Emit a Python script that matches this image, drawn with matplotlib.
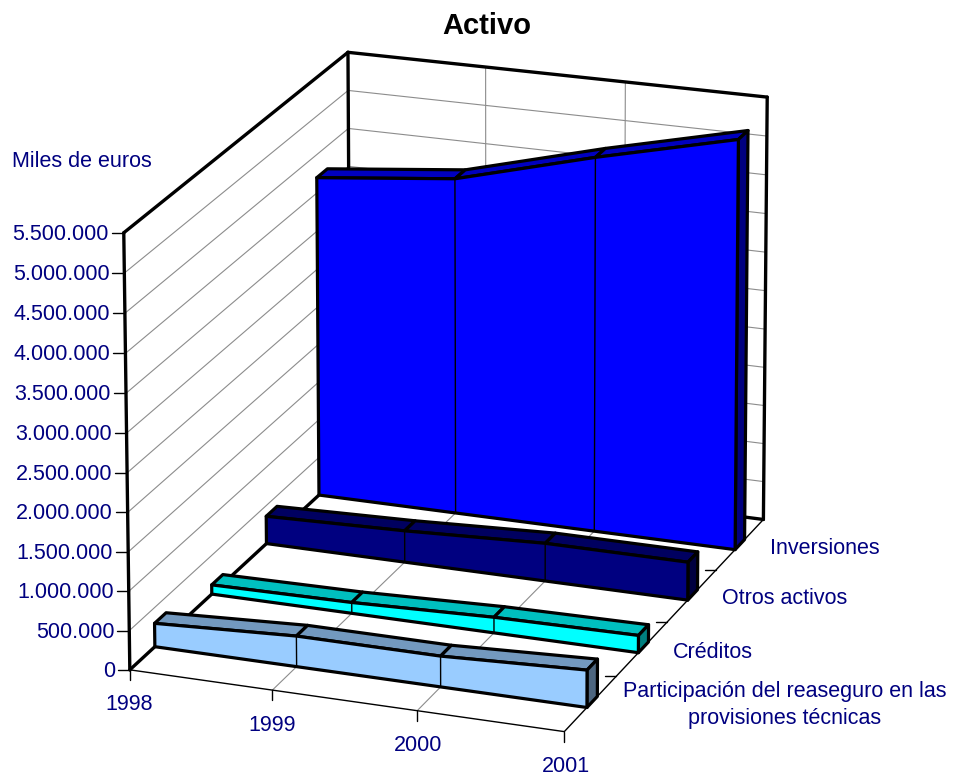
import numpy as np
import matplotlib
matplotlib.use("Agg")
import matplotlib.pyplot as plt

plt.rcParams["font.family"] = ["Liberation Sans", "DejaVu Sans"]

# data (miles de euros)
years = ["1998", "1999", "2000", "2001"]
series = ["Participación del reaseguro en las\nprovisiones técnicas", "Créditos", "Otros activos", "Inversiones"]
participacion = [300000, 390000, 390000, 470000]
creditos = [120000, 140000, 200000, 220000]
otros = [360000, 410000, 490000, 490000]
inversiones = [4200000, 4390000, 4870000, 5300000]
values = [participacion, creditos, otros, inversiones]
yticks = list(range(0, 5500001, 500000))

front_cols = ["#99CCFF", "#00FFFF", "#000080", "#0000FF"]
top_cols = ["#7399BF", "#00BFBF", "#000060", "#0000BF"]
side_cols = ["#4D6680", "#008080", "#000040", "#000080"]
navy = "#000080"
grid = "#8C8C8C"
half_depth = 0.10
depth_shift = [0.03, 0.03, 0.02, 0.0]
vmax = yticks[-1]

# perspective camera, fitted on the eight corners of the chart box
world = np.array([[0, 0, 0], [3, 0, 0], [3, 4, 0], [0, 4, 0],
                  [0, 0, 1], [3, 0, 1], [3, 4, 1], [0, 4, 1]], dtype=float)
screen = np.array([[130, 671], [566, 732], [762, 519], [350, 465],
                   [125, 233], [562, 283], [770, 99], [347, 52]], dtype=float)
rows = []
for (a, b, c), (u, v) in zip(world, screen):
    rows.append([a, b, c, 1, 0, 0, 0, 0, -u * a, -u * b, -u * c, -u])
    rows.append([0, 0, 0, 0, a, b, c, 1, -v * a, -v * b, -v * c, -v])
cam = np.linalg.svd(np.array(rows))[2][-1].reshape(3, 4)


def proj(x, y, val):
    p = cam @ np.array([x, y, val / vmax, 1.0])
    return p[0] / p[2], p[1] / p[2]


fig = plt.figure(figsize=(9.54, 7.78), dpi=100)
ax = fig.add_axes([0, 0, 1, 1])
ax.set_xlim(0, 954)
ax.set_ylim(778, 0)
ax.axis("off")


def line(a, b, lw=0.8, color="black", z=1):
    ax.plot([a[0], b[0]], [a[1], b[1]], color=color, lw=lw, zorder=z, solid_capstyle="round")


def face(pts, col, lw=2.3, z=5):
    ax.fill([p[0] for p in pts], [p[1] for p in pts], facecolor=col, edgecolor="black",
            lw=lw, zorder=z, joinstyle="round")


# walls and floor grid
for t in yticks:
    line(proj(0, 0, t), proj(0, 4, t), color=grid)
    line(proj(0, 4, t), proj(3, 4, t), color=grid)
for i in range(1, 3):
    line(proj(i, 0, 0), proj(i, 4, 0), color=grid)
    line(proj(i, 4, 0), proj(i, 4, vmax), color=grid)

# heavy frame
for a, b in [((0, 0, 0), (0, 0, vmax)), ((0, 0, vmax), (0, 4, vmax)), ((0, 4, vmax), (3, 4, vmax)),
             ((0, 4, vmax), (0, 4, 0)), ((3, 4, vmax), (3, 4, 0)), ((0, 0, 0), (0, 4, 0)), ((0, 4, 0), (3, 4, 0))]:
    line(proj(*a), proj(*b), lw=2.4, z=2)
line(proj(0, 0, 0), proj(3, 0, 0), lw=1.0, z=2)
line(proj(3, 0, 0), proj(3, 4, 0), lw=1.0, z=2)

# ticks
for t in yticks:
    x, y = proj(0, 0, t)
    line((x - 12, y), (x, y), lw=1.0)
    ax.text(x - 15, y + 1.5, f"{t:,}".replace(",", "."), color=navy, fontsize=15.5, ha="right", va="center")
for i, lab in enumerate(years):
    x, y = proj(i, 0, 0)
    line((x, y), (x, y + 10), lw=1.0)
    ax.text(x - 1 + i * 0.8, y + 35, lab, color=navy, fontsize=15.5, ha="center", va="center")
for k in range(1, 4):
    x, y = proj(3, k, 0)
    line((x - 11, y), (x, y), lw=1.0)

label_pos = [(785, 705), (713, 652), (785, 599), (825, 548)]
for lab, (x, y) in zip(series, label_pos):
    ax.text(x, y, lab, color=navy, fontsize=15.5, ha="center", va="center", linespacing=1.4)

# ribbons, back to front
for k in range(3, -1, -1):
    vals = values[k]
    yf = k + 0.5 - half_depth + depth_shift[k]
    yb = k + 0.5 + half_depth + depth_shift[k]
    z = 10 + (3 - k) * 5
    for i in range(3):
        face([proj(i, yf, vals[i]), proj(i + 1, yf, vals[i + 1]),
              proj(i + 1, yb, vals[i + 1]), proj(i, yb, vals[i])], top_cols[k], z=z)
    face([proj(3, yf, 0), proj(3, yb, 0), proj(3, yb, vals[3]), proj(3, yf, vals[3])], side_cols[k], z=z)
    pts = [proj(i, yf, vals[i]) for i in range(4)] + [proj(3, yf, 0), proj(0, yf, 0)]
    face(pts, front_cols[k], z=z + 1)
    for i in range(1, 3):
        line(proj(i, yf, 0), proj(i, yf, vals[i]), lw=1.0, z=z + 2)

ax.text(487, 26, "Activo", color="black", fontsize=21, fontweight="bold", ha="center", va="center")
ax.text(12, 161, "Miles de euros", color=navy, fontsize=15.5, ha="left", va="center")

fig.savefig("out.png", dpi=100)
